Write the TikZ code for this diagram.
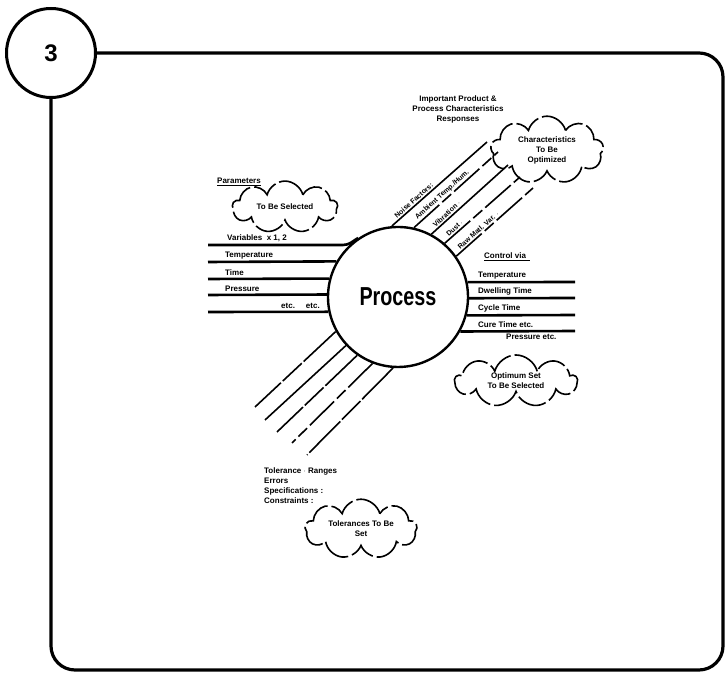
\documentclass[tikz,border=0pt]{standalone}
\usepackage{fontspec}
\setmainfont{Liberation Sans}
\newfontfamily\procfont[FakeStretch=0.76]{Liberation Sans}
\usetikzlibrary{shapes.symbols, positioning, calc}

\begin{document}
\begin{tikzpicture}[x=1pt, y=1pt,
    frame/.style={line width=3.2pt, line join=round},
    flow/.style={line width=2.6pt},
    feed/.style={line width=1.6pt},
    broken/.style={feed, dash pattern=on 34pt off 4pt on 12pt off 4pt},
    gappy/.style={feed, dash pattern=on 44pt off 2.5pt on 26pt off 2.5pt},
    lbl/.style={font=\fontsize{8}{10}\selectfont\bfseries, inner sep=1pt, align=left},
    slab/.style={font=\fontsize{7}{8}\selectfont\bfseries, inner xsep=0.6pt, inner ysep=1.4pt, pos=0.06, sloped, anchor=south west},
    puff/.style={cloud, draw, cloud puffs=9, aspect=2.6, line width=1.6pt,
        dash pattern=on 30pt off 4pt, inner sep=1pt, align=center,
        font=\fontsize{8}{10}\selectfont\bfseries}]

    \useasboundingbox (0,0) rectangle (726,674);

    % Step number and frame
    \node[circle, draw, line width=3pt, minimum size=89pt, inner sep=0pt,
        font=\fontsize{24}{24}\selectfont\bfseries] (num) at (51,621) {3};
    \draw[frame, rounded corners=24pt] (num.east) -- (723,621) -- (723,4)
        -- (num.south |- 0,4) -- (num.south);

    % Process
    \node[circle, draw, line width=2.4pt, minimum size=140pt, inner sep=0pt,
        font=\procfont\fontsize{26}{26}\selectfont\bfseries] (proc) at (398,377) {Process};

    % Responses (upper right)
    \node[lbl, align=center] (resp) at (458,565) {Important Product \&\\Process Characteristics\\Responses};
    \node[puff, minimum width=86pt, minimum height=56pt] (respcloud) at (547,524) {Characteristics\\To Be\\Optimized};
    \coordinate (nf1) at (487,532);
    \coordinate (nf2) at (498,522);
    \coordinate (nf3) at (508,509);
    \coordinate (nf4) at (520,497);
    \coordinate (nf5) at (533,486);
    \draw[feed] (proc.95) -- node[slab] {Noise Factors:} (nf1);
    \draw[broken] (proc.77) -- node[slab] {Ambient Temp./Hum.} (nf2);
    \draw[feed] (proc.62) -- node[slab] {Vibration $\cdot$} (nf3);
    \draw[broken] (proc.49) -- node[slab] {Dust $\cdot$} (nf4);
    \draw[broken] (proc.35) -- node[slab] {Raw Matl. Var. $\cdot$} (nf5);

    % Parameters (left)
    \node[lbl, anchor=south west] (par) at (216,487) {\underline{Parameters}};
    \node[puff, minimum width=105pt, minimum height=36pt] (parcloud) at (285,467) {To Be Selected};
    \coordinate (in1) at (208,429);
    \coordinate (in2) at (208,412);
    \coordinate (in3) at (208,395);
    \coordinate (in4) at (208,379);
    \coordinate (in5) at (208,362);
    \draw[flow] (in1) -- (343,429) to[out=0, in=210] (proc.124);
    \draw[flow] (in2) -- (proc.150);
    \draw[flow] (in3) -- (proc.165);
    \draw[flow] (in4) -- (proc.178);
    \draw[flow] (in5) -- (proc.192);
    \node[lbl, anchor=south west] (tin1) at (226,431) {Variables \ x 1, 2};
    \node[lbl, anchor=south west] (tin2) at (224,414) {Temperature};
    \node[lbl, anchor=south west] (tin3) at (224,397) {Time};
    \node[lbl, anchor=south west] (tin4) at (224,381) {Pressure};
    \node[lbl, anchor=south west] (tin5) at (280,364) {etc. \quad etc.};

    % Control settings (right)
    \node[lbl, anchor=south west] (ctl) at (483,412) {\underline{Control via \,}};
    \coordinate (out1) at (575,392);
    \coordinate (out2) at (575,376);
    \coordinate (out3) at (575,359);
    \coordinate (out4) at (575,343);
    \draw[flow] (proc.12) -- (out1);
    \draw[flow] (proc.-1) -- (out2);
    \draw[flow] (proc.-15) -- (out3);
    \draw[flow] (proc.-29) -- (out4);
    \node[lbl, anchor=south west] (tout1) at (477,394) {Temperature};
    \node[lbl, anchor=south west] (tout2) at (477,378) {Dwelling Time};
    \node[lbl, anchor=south west] (tout3) at (477,361) {Cycle Time};
    \node[lbl, anchor=south west] (tout4) at (477,345) {Cure Time etc.};
    \node[lbl, anchor=north west] (tout5) at (505,341) {Pressure etc.};
    \node[puff, minimum width=122pt, minimum height=52pt] (ctlcloud) at (516,293) {Optimum Set\\To Be Selected};

    % Tolerances (lower left)
    \coordinate (tl1) at (255,267);
    \coordinate (tl2) at (265,254);
    \coordinate (tl3) at (277,242);
    \coordinate (tl4) at (292,231);
    \coordinate (tl5) at (307,219);
    \draw[gappy] (proc.209) -- (tl1);
    \draw[feed] (proc.223) -- (tl2);
    \draw[gappy] (proc.235) -- (tl3);
    \draw[broken] (proc.249) -- (tl4);
    \draw[gappy] (proc.266) -- (tl5);
    \node[lbl, anchor=north west] (tol) at (263,207) {Tolerance $\cdot$ Ranges\\Errors\\Specifications :\\Constraints :};
    \node[puff, minimum width=112pt, minimum height=40pt] (tolcloud) at (361,145) {Tolerances To Be\\Set};
\end{tikzpicture}
\end{document}
